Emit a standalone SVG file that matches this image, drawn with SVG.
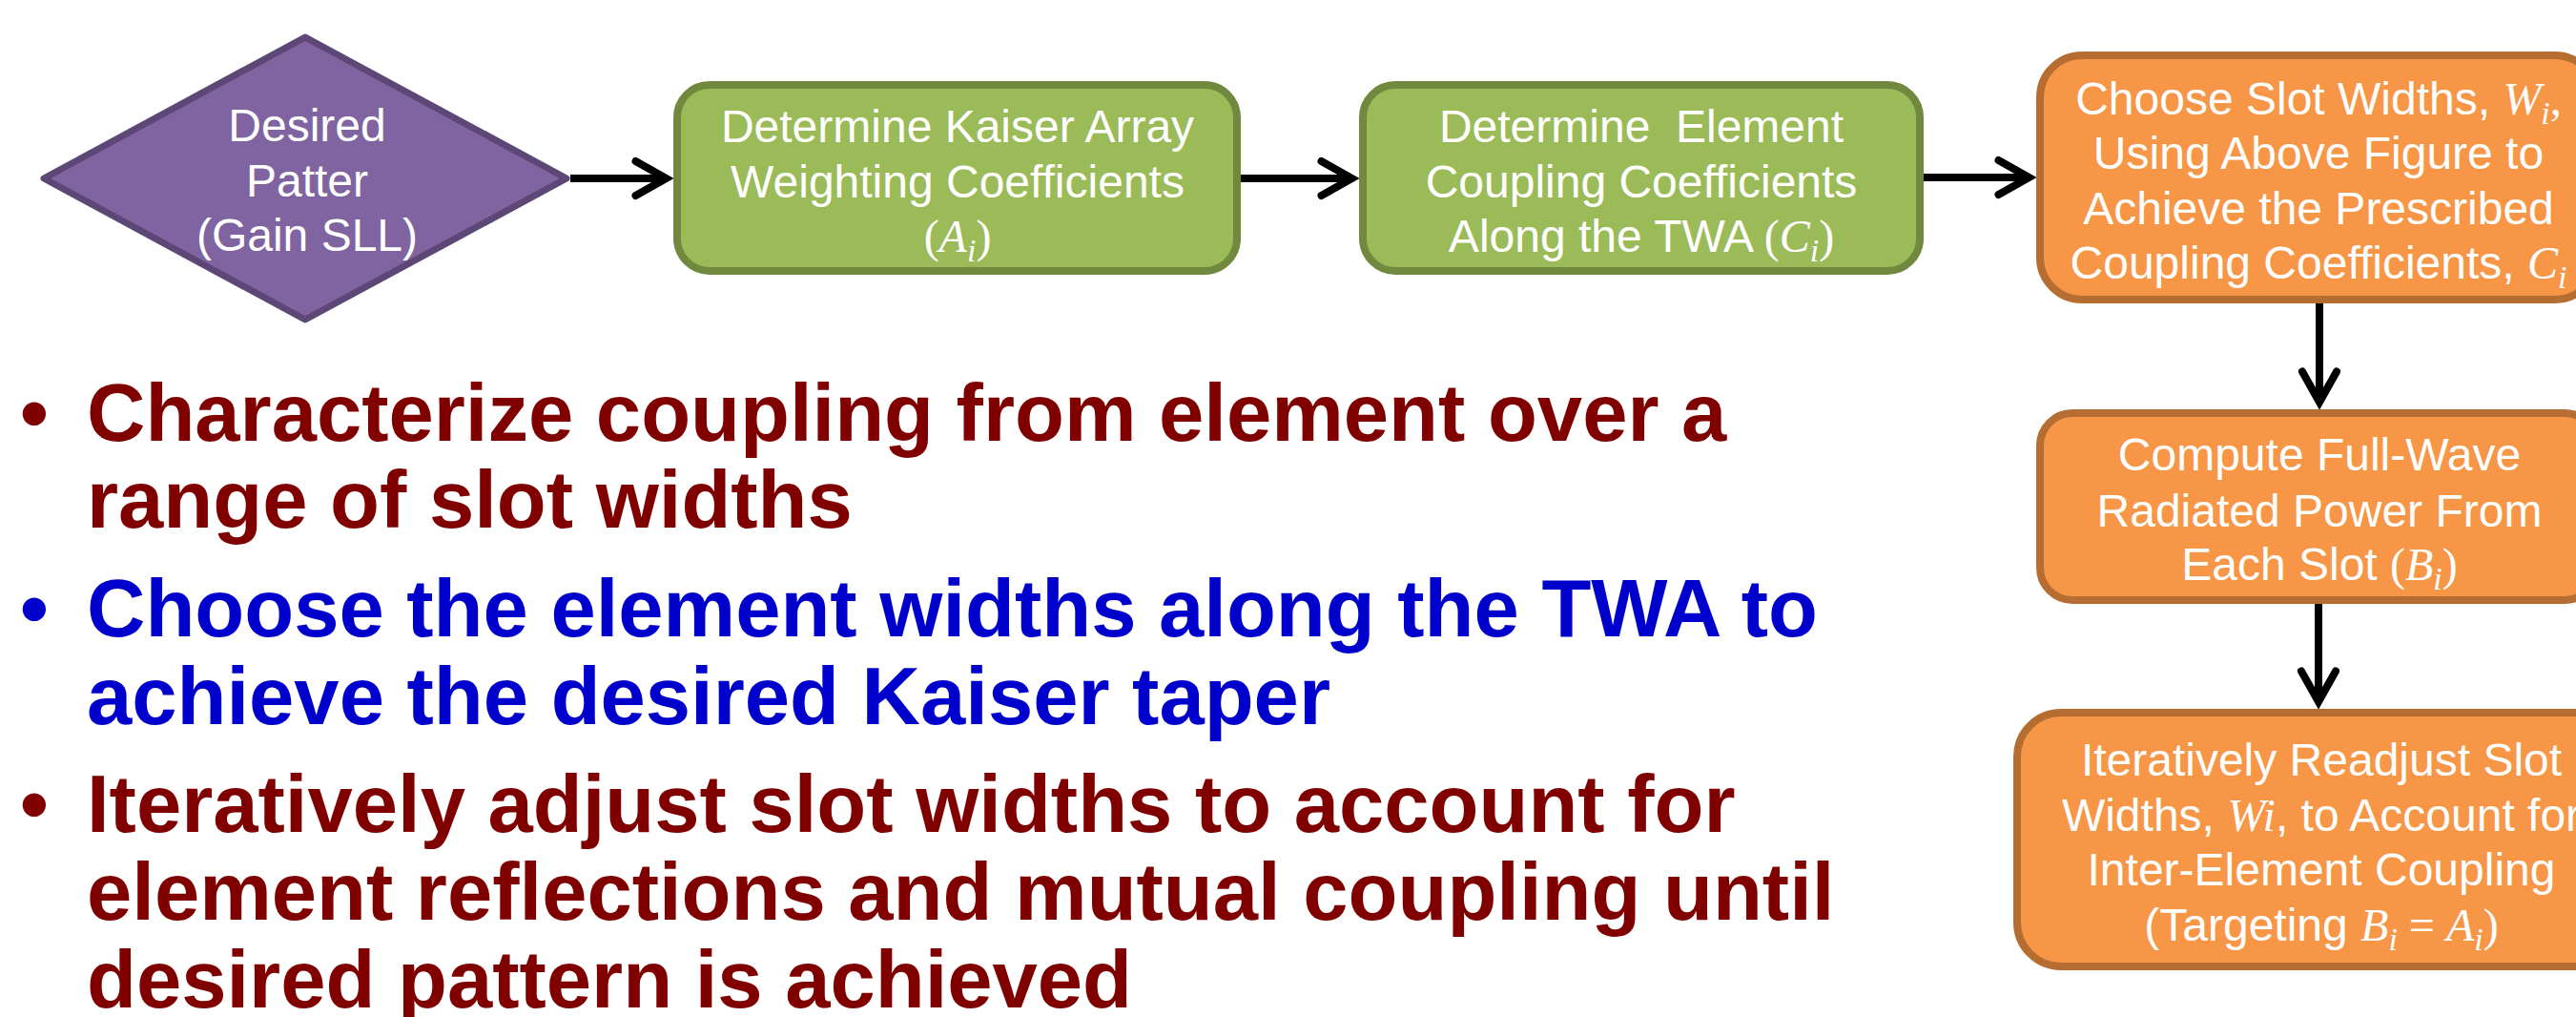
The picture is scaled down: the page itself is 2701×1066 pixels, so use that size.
<svg xmlns="http://www.w3.org/2000/svg" width="2701" height="1066" viewBox="0 0 2701 1066">
  <style>
    .lbl { font-family: "Liberation Sans", Arial, sans-serif; font-size: 48px; fill: #ffffff; text-anchor: middle; }
    .mi { font-family: "Liberation Serif", "DejaVu Serif", serif; font-style: italic; }
    .mr { font-family: "Liberation Serif", "DejaVu Serif", serif; }
    .sub { font-size: 34px; }
    .green { fill: #9bbb59; stroke: #71893f; stroke-width: 8; }
    .orange { fill: #f79646; stroke: #b66d31; stroke-width: 8; }
    .purple { fill: #8064a2; stroke: #5c4776; stroke-width: 7; stroke-linejoin: round; }
    .conn { stroke: #000000; stroke-width: 8; fill: none; marker-end: url(#arrow); }
    .bul { font-family: "Liberation Sans", Arial, sans-serif; font-weight: bold; font-size: 85px; }
    .red { fill: #800000; }
    .blue { fill: #0000cc; }
  </style>
  <defs>
    <marker id="arrow" markerUnits="userSpaceOnUse" viewBox="-45 -28 50 56" refX="0" refY="0" markerWidth="50" markerHeight="56" orient="auto" overflow="visible">
      <path d="M -31.5 -18 L 0.5 0 L -31.5 18" fill="none" stroke="#000000" stroke-width="8" stroke-linecap="round" stroke-linejoin="miter"/>
    </marker>
  </defs>

  <rect width="2701" height="1066" fill="#ffffff"/>

  <!-- connectors -->
  <g id="connectors">
    <path class="conn" d="M 598 187 L 698 187"/>
    <path class="conn" d="M 1301 187 L 1417 187"/>
    <path class="conn" d="M 2017 186 L 2127 186"/>
    <path class="conn" d="M 2432 318 L 2432 421"/>
    <path class="conn" d="M 2431 633 L 2431 735"/>
  </g>

  <!-- start: desired pattern -->
  <g id="desired-pattern">
    <polygon class="purple" points="46,187 320,39 594,187 320,335"/>
    <text class="lbl" x="322" y="148">Desired</text>
    <text class="lbl" x="322" y="206">Patter</text>
    <text class="lbl" x="322" y="263">(Gain SLL)</text>
  </g>

  <g id="kaiser-weights">
    <rect class="green" x="710" y="89" width="587" height="195" rx="34" ry="34"/>
    <text class="lbl" x="1004" y="149">Determine Kaiser Array</text>
    <text class="lbl" x="1004" y="207">Weighting Coefficients</text>
    <text class="lbl" x="1004" y="264"><tspan class="mr">(</tspan><tspan class="mi">A</tspan><tspan class="mi sub" dy="10">i</tspan><tspan class="mr" dy="-10">)</tspan></text>
  </g>

  <g id="coupling-coefficients">
    <rect class="green" x="1429" y="89" width="584" height="195" rx="34" ry="34"/>
    <text class="lbl" x="1721" y="149" xml:space="preserve">Determine  Element</text>
    <text class="lbl" x="1721" y="207">Coupling Coefficients</text>
    <text class="lbl" x="1721" y="264">Along the TWA <tspan class="mr">(</tspan><tspan class="mi">C</tspan><tspan class="mi sub" dy="10">i</tspan><tspan class="mr" dy="-10">)</tspan></text>
  </g>

  <g id="choose-widths">
    <rect class="orange" x="2139" y="58" width="584" height="256" rx="44" ry="44"/>
    <text class="lbl" x="2431" y="120">Choose Slot Widths, <tspan class="mi">W</tspan><tspan class="mi sub" dy="10">i</tspan><tspan class="mr" dy="-10">,</tspan></text>
    <text class="lbl" x="2431" y="177">Using Above Figure to</text>
    <text class="lbl" x="2431" y="235">Achieve the Prescribed</text>
    <text class="lbl" x="2431" y="292">Coupling Coefficients, <tspan class="mi">C</tspan><tspan class="mi sub" dy="10">i</tspan></text>
  </g>

  <g id="full-wave-power">
    <rect class="orange" x="2139" y="433" width="584" height="196" rx="34" ry="34"/>
    <text class="lbl" x="2432" y="493">Compute Full-Wave</text>
    <text class="lbl" x="2432" y="552">Radiated Power From</text>
    <text class="lbl" x="2432" y="608">Each Slot <tspan class="mr">(</tspan><tspan class="mi">B</tspan><tspan class="mi sub" dy="10">i</tspan><tspan class="mr" dy="-10">)</tspan></text>
  </g>

  <g id="readjust-widths">
    <rect class="orange" x="2115" y="747" width="636" height="266" rx="46" ry="46"/>
    <text class="lbl" x="2434" y="813">Iteratively Readjust Slot</text>
    <text class="lbl" x="2434" y="871">Widths, <tspan class="mi">Wi</tspan>, to Account for</text>
    <text class="lbl" x="2434" y="928">Inter-Element Coupling</text>
    <text class="lbl" x="2434" y="986">(Targeting <tspan class="mi">B</tspan><tspan class="mi sub" dy="10">i</tspan><tspan class="mr" dy="-10"> = </tspan><tspan class="mi">A</tspan><tspan class="mi sub" dy="10">i</tspan><tspan class="mr" dy="-10">)</tspan></text>
  </g>

  <!-- bullet list -->
  <g id="bullets" class="bul">
    <text class="red" x="36" y="462" text-anchor="middle">•</text>
    <text class="red" x="91" y="462">Characterize coupling from element over a</text>
    <text class="red" x="91" y="553">range of slot widths</text>
    <text class="blue" x="36" y="667" text-anchor="middle">•</text>
    <text class="blue" x="91" y="667">Choose the element widths along the TWA to</text>
    <text class="blue" x="91" y="759">achieve the desired Kaiser taper</text>
    <text class="red" x="36" y="872" text-anchor="middle">•</text>
    <text class="red" x="91" y="872">Iteratively adjust slot widths to account for</text>
    <text class="red" x="91" y="964">element reflections and mutual coupling until</text>
    <text class="red" x="91" y="1056">desired pattern is achieved</text>
  </g>
</svg>
